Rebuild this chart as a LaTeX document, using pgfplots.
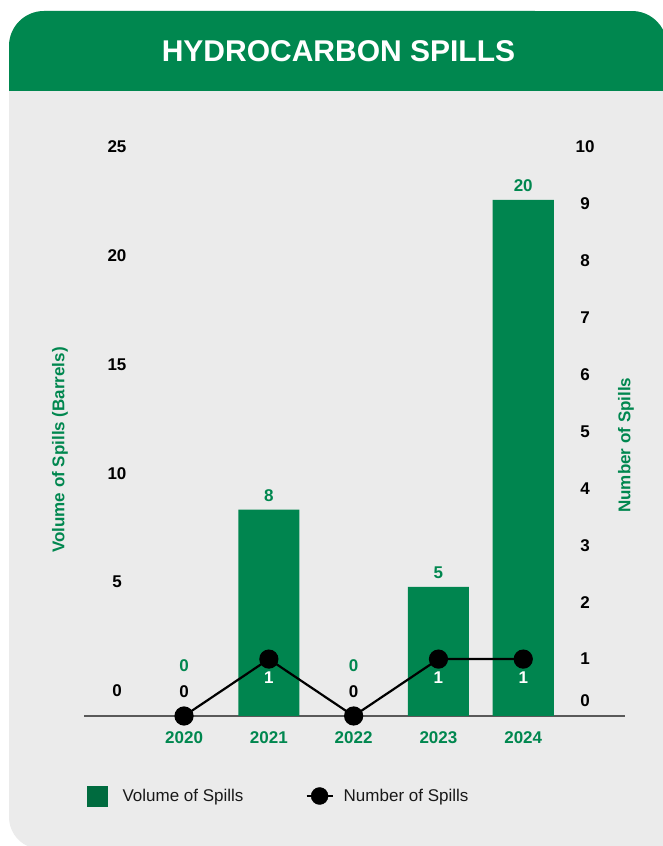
\documentclass[border=0pt]{standalone}
\usepackage{pgfplots}
\pgfplotsset{compat=1.18}
\usepackage{fontspec}
\setmainfont{Liberation Sans}
\definecolor{hdrgreen}{HTML}{00874F}
\definecolor{bargreen}{HTML}{00854F}
\definecolor{txtgreen}{HTML}{00874F}
\definecolor{leggreen}{HTML}{006B3F}
\definecolor{bodygray}{HTML}{EBEBEB}
\definecolor{axisgray}{HTML}{595959}
\newcommand\fs[1]{\fontsize{#1}{#1}\selectfont}
\tikzset{lbl/.style={font=\bfseries\fs{17}}}
\pgfplotsset{
  /pgf/number format/assume math mode=true,
  myax/.style={at={(84pt,130pt)}, anchor=south west, scale only axis,
    width=541pt, height=569pt, xmin=-1.18, xmax=5.2, clip=false,
    major tick length=0pt},
}
\begin{document}
\begin{tikzpicture}
\fill[white] (0pt,0pt) rectangle (663pt,846pt);
\fill[bodygray] (663pt,0pt) -- (663pt,816.2pt) arc[start angle=27.6, end angle=90, radius=35pt]
  -- (44pt,835pt) arc[start angle=90, end angle=180, radius=35pt]
  -- (9pt,29pt) arc[start angle=180, end angle=245, radius=32pt] -- cycle;
\fill[hdrgreen] (663pt,755pt) -- (663pt,816.2pt) arc[start angle=27.6, end angle=90, radius=35pt]
  -- (44pt,835pt) arc[start angle=90, end angle=180, radius=35pt]
  -- (9pt,755pt) -- cycle;
\node[text=white, font=\bfseries\fs{30}] at (338.5pt,795pt) {HYDROCARBON SPILLS};

% left tick axis
\begin{axis}[myax, ymin=-1.149, ymax=25, ytick={0,5,...,25}, xtick=\empty,
  axis line style={draw=none},
  yticklabel style={anchor=center, xshift=33pt, lbl},
  ylabel={Volume of Spills (Barrels)},
  ylabel style={at={(axis description cs:-0.0444,0.4675)}, anchor=center, lbl, text=txtgreen}]
\end{axis}

% bars
\begin{axis}[myax, ymin=0, ymax=22.05, ytick=\empty,
  xtick={0,...,4}, xticklabels={2020,2021,2022,2023,2024},
  axis x line*=bottom, axis y line=none,
  x axis line style={axisgray, line width=1.5pt, -},
  xticklabel style={anchor=center, yshift=-22pt, lbl, text=txtgreen},
  legend style={at={(axis description cs:0.0055,-0.1406)}, anchor=west,
    draw=none, fill=none, inner sep=0pt, font=\fs{17}, text=black!90,
    legend columns=2, nodes={inner sep=0pt},
    /tikz/column 1/.append style={column sep=15pt},
    /tikz/column 2/.append style={column sep=62pt},
    /tikz/column 3/.append style={column sep=10pt}},
  legend cell align=left]
\addplot[ybar, bar width=61pt, fill=bargreen, draw=none, forget plot,
  nodes near coords, nodes near coords style={text=txtgreen, lbl, anchor=south, inner sep=0pt, yshift=8pt}]
  coordinates {(1,8) (3,5) (4,20)};
\addplot[draw=none, forget plot, nodes near coords,
  nodes near coords style={text=txtgreen, lbl, anchor=center, yshift=50pt}]
  coordinates {(0,0) (2,0)};
\addlegendimage{legend image code/.code={\fill[leggreen] (0pt,-10pt) rectangle (20pt,10pt);}}
\addlegendentry{Volume of Spills}
\addlegendimage{legend image code/.code={\draw[black, line width=2.2pt] (0pt,0pt) -- (26pt,0pt); \fill[black] (13pt,0pt) circle (8.5pt);}}
\addlegendentry{Number of Spills}
\end{axis}

% line + right ticks
\begin{axis}[myax, ymin=0, ymax=10, ytick={1,...,10}, xtick=\empty,
  yticklabel pos=right, axis line style={draw=none},
  yticklabel style={anchor=center, xshift=-40pt, lbl},
  extra y ticks={0}, extra y tick style={yticklabel style={yshift=15pt}},
  ylabel={Number of Spills},
  ylabel style={at={(axis description cs:1.0018,0.476)}, anchor=center, lbl, text=txtgreen}]
\addplot[black, line width=2.2pt, mark=*, mark size=8.5pt, mark options={solid, fill=black}]
  coordinates {(0,0) (1,1) (2,0) (3,1) (4,1)};
\addplot[draw=none, nodes near coords,
  nodes near coords style={text=black, lbl, anchor=center, yshift=24pt}]
  coordinates {(0,0) (2,0)};
\addplot[draw=none, nodes near coords,
  nodes near coords style={text=white, lbl, anchor=center, yshift=-19pt}]
  coordinates {(1,1) (3,1) (4,1)};
\end{axis}
\end{tikzpicture}
\end{document}
